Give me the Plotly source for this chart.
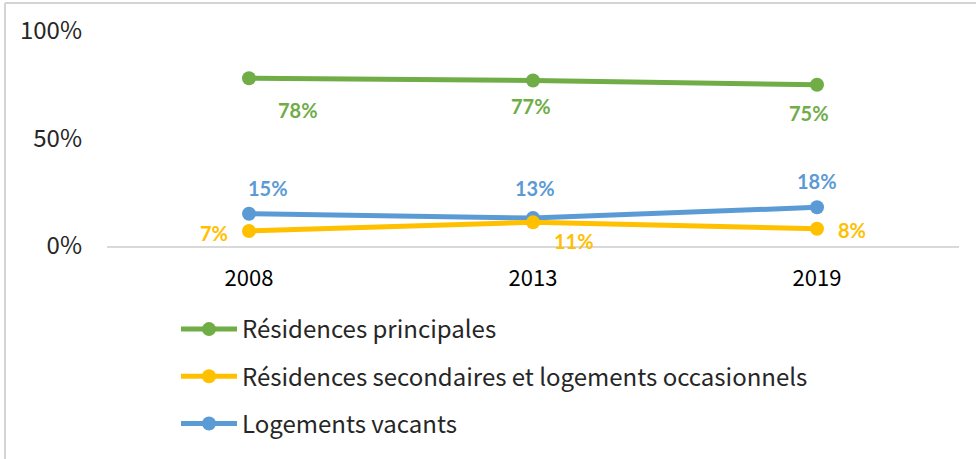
import plotly.graph_objects as go

# Housing stock composition by year (share of total dwellings)
years = ["2008", "2013", "2019"]
series_names = [
    "Résidences principales",
    "Résidences secondaires et logements occasionnels",
    "Logements vacants",
]
principales = [0.78, 0.77, 0.75]
secondaires = [0.07, 0.11, 0.08]
vacants = [0.15, 0.13, 0.18]
y_ticks = [0, 0.5, 1.0]
y_tick_labels = ["0%", "50%", "100%"]

colors = ["#70AD47", "#FFC000", "#5B9BD5"]
values = [principales, secondaires, vacants]

# label offsets (px) for each point's value label
label_shifts = [
    [(49, -32), (-2, -26), (-8, -28)],
    [(-35, -2), (41, -19), (35, -1)],
    [(19, 26), (2, 30), (0, 26)],
]

# drawing order: green first, then blue, then yellow on top
draw_order = [0, 2, 1]

fig = go.Figure()
for i in draw_order:
    fig.add_trace(go.Scatter(
        x=years, y=values[i], name=series_names[i], mode="lines+markers",
        line=dict(color=colors[i], width=5),
        marker=dict(color=colors[i], size=14),
        legendgroup=f"g{i}", legendrank=i + 1,
    ))

# value labels; category axis positions are given by index
annotations = []
for vals, col, shifts in zip(values, colors, label_shifts):
    for k, (v, (dx, dy)) in enumerate(zip(vals, shifts)):
        annotations.append(dict(
            x=k, y=v, xref="x", yref="y",
            text=f"<b>{round(v * 100)}%</b>", showarrow=False,
            xshift=dx, yshift=dy,
            font=dict(family="Lato", size=20, color=col),
        ))

# frame lines along top and left edges of the figure
x_left = (5 - 107) / 852
y_top = (246 - 3) / 215
y_bot = (246 - 459) / 215
x_right = (976 - 107) / 852
shapes = [
    dict(type="line", xref="paper", yref="paper", x0=x_left, x1=x_right,
         y0=y_top, y1=y_top, line=dict(color="#D4D4D4", width=2)),
    dict(type="line", xref="paper", yref="paper", x0=x_left, x1=x_left,
         y0=y_top, y1=y_bot, line=dict(color="#D4D4D4", width=2)),
]

fig.update_layout(
    width=976, height=459,
    margin=dict(l=107, r=17, t=31, b=213),
    paper_bgcolor="white", plot_bgcolor="white",
    showlegend=True,
    legend=dict(
        x=(176 - 107) / 852, xanchor="left",
        y=(246 - 307) / 215, yanchor="top",
        font=dict(family="Noto Sans CJK JP", size=24, color="#262626"),
        tracegroupgap=13, traceorder="grouped",
        itemwidth=56,
    ),
    xaxis=dict(
        type="category", range=[-0.5, 2.5],
        showline=True, linecolor="#D9D9D9", linewidth=2,
        showgrid=False, zeroline=False, ticks="",
        tickfont=dict(family="Noto Sans CJK JP", size=22, color="#000000"),
        ticklabelstandoff=12,
    ),
    yaxis=dict(
        range=[0, 1], tickvals=y_ticks, ticktext=y_tick_labels,
        showgrid=False, zeroline=False, showline=False, ticks="",
        tickfont=dict(family="Noto Sans CJK JP", size=24, color="#262626"),
        ticklabelstandoff=24,
    ),
    annotations=annotations,
    shapes=shapes,
)

fig.write_html("out.html")
